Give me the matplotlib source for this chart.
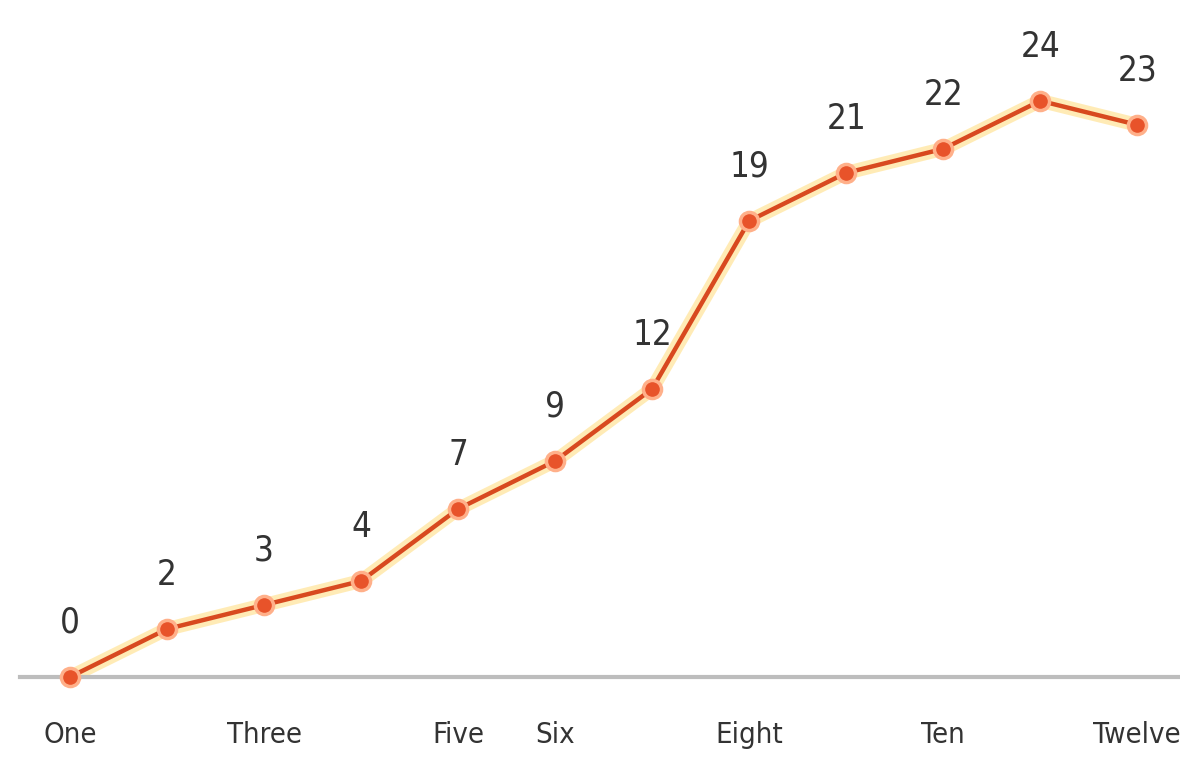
import numpy as np
import matplotlib.pyplot as plt

# chart data
months = ["One", "Two", "Three", "Four", "Five", "Six", "Seven",
          "Eight", "Nine", "Ten", "Eleven", "Twelve"]
values = [0, 2, 3, 4, 7, 9, 12, 19, 21, 22, 24, 23]
shown_ticks = ["One", "Three", "Five", "Six", "Eight", "Ten", "Twelve"]

plt.rcParams['font.family'] = ['DejaVu Sans']
plt.rcParams['font.stretch'] = 'condensed'

fig = plt.figure(figsize=(11.8, 7.6), dpi=100)
ax = fig.add_axes([20 / 1180, 83 / 760, 1160 / 1180, 677 / 760])

x = np.arange(len(months))

# soft glow under the line
ax.plot(x, values, color="#ffcf4a", linewidth=10, alpha=0.4,
        solid_capstyle='round', clip_on=False, zorder=2)
ax.plot(x, values, color="#d8491f", linewidth=3.2, clip_on=False, zorder=3)
ax.scatter(x, values, s=170, color="#e8532a", edgecolors="#ffb08a",
           linewidths=2.5, clip_on=False, zorder=4)

for xi, v in zip(x, values):
    ax.annotate(str(v), (xi, v), xytext=(0, 39), textcoords='offset points',
                ha='center', va='center', fontsize=25, color="#333333")

ax.set_xlim(-0.515, 11.44)
ax.set_ylim(0, 28.2)

tick_pos = [months.index(m) for m in shown_ticks]
ax.set_xticks(tick_pos)
ax.set_xticklabels(shown_ticks, fontsize=21, color="#333333")
ax.tick_params(axis='x', length=0, pad=32)
ax.set_yticks([])

for side in ["top", "right", "left"]:
    ax.spines[side].set_visible(False)
ax.spines["bottom"].set_color("#bdbdbd")
ax.spines["bottom"].set_linewidth(3)

fig.savefig("out.png", dpi=100)
